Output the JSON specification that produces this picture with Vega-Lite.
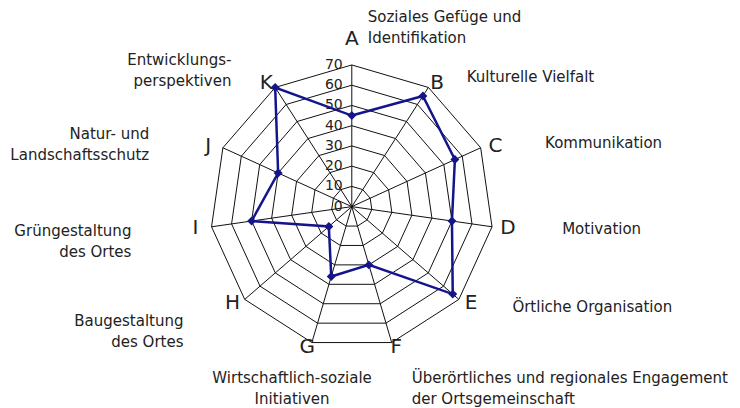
{
  "$schema": "https://vega.github.io/schema/vega-lite/v6.json",
  "width": 740,
  "height": 408,
  "autosize": {"type": "none"},
  "padding": 0,
  "background": "white",
  "config": {"view": {"stroke": null}, "text": {"font": "DejaVu Sans"}},
  "datasets": {
    "axes": [
      {"letter": "A", "label": "Soziales Gefüge und\nIdentifikation", "value": 45},
      {"letter": "B", "label": "Kulturelle Vielfalt", "value": 65},
      {"letter": "C", "label": "Kommunikation", "value": 56},
      {"letter": "D", "label": "Motivation", "value": 50},
      {"letter": "E", "label": "Örtliche Organisation", "value": 66},
      {"letter": "F", "label": "Überörtliches und regionales Engagement\nder Ortsgemeinschaft", "value": 30},
      {"letter": "G", "label": "Wirtschaftlich-soziale\nInitiativen", "value": 36},
      {"letter": "H", "label": "Baugestaltung\ndes Ortes", "value": 15},
      {"letter": "I", "label": "Grüngestaltung\ndes Ortes", "value": 50},
      {"letter": "J", "label": "Natur- und\nLandschaftsschutz", "value": 40},
      {"letter": "K", "label": "Entwicklungs-\nperspektiven", "value": 70}
    ],
    "levels": [
      {"level": 0}, {"level": 10}, {"level": 20}, {"level": 30},
      {"level": 40}, {"level": 50}, {"level": 60}, {"level": 70}
    ]
  },
  "encoding": {
    "x": {"field": "px", "type": "quantitative", "scale": {"domain": [-173.8, 191.8], "nice": false, "zero": false}, "axis": null},
    "y": {"field": "py", "type": "quantitative", "scale": {"domain": [-99.5, 102.1], "nice": false, "zero": false}, "axis": null}
  },
  "layer": [
    {
      "data": {"name": "levels"},
      "transform": [
        {"filter": "datum.level > 0"},
        {"calculate": "[0,1,2,3,4,5,6,7,8,9,10]", "as": "ids"},
        {"flatten": ["ids"]},
        {"calculate": "2*PI*datum.ids/11", "as": "ang"},
        {"calculate": "datum.level*sin(datum.ang)", "as": "px"},
        {"calculate": "datum.level*cos(datum.ang)", "as": "py"}
      ],
      "mark": {"type": "line", "interpolate": "linear-closed", "color": "#111111", "strokeWidth": 1},
      "encoding": {
        "detail": {"field": "level", "type": "nominal"},
        "order": {"field": "ids", "type": "quantitative"}
      }
    },
    {
      "data": {"name": "axes"},
      "transform": [
        {"calculate": "indexof('ABCDEFGHIJK', datum.letter)", "as": "idx"},
        {"calculate": "2*PI*datum.idx/11", "as": "ang"},
        {"calculate": "0", "as": "px"},
        {"calculate": "0", "as": "py"},
        {"calculate": "70*sin(datum.ang)", "as": "ex"},
        {"calculate": "70*cos(datum.ang)", "as": "ey"}
      ],
      "mark": {"type": "rule", "color": "#111111", "strokeWidth": 1},
      "encoding": {
        "x2": {"field": "ex"},
        "y2": {"field": "ey"}
      }
    },
    {
      "data": {"name": "levels"},
      "transform": [
        {"calculate": "0", "as": "px"},
        {"calculate": "datum.level", "as": "py"}
      ],
      "mark": {"type": "text", "align": "right", "baseline": "middle", "dx": -9, "fontSize": 14, "color": "#222222"},
      "encoding": {"text": {"field": "level", "type": "quantitative"}}
    },
    {
      "data": {"name": "axes"},
      "transform": [
        {"calculate": "indexof('ABCDEFGHIJK', datum.letter)", "as": "idx"},
        {"calculate": "2*PI*datum.idx/11", "as": "ang"},
        {"calculate": "datum.value*sin(datum.ang)", "as": "px"},
        {"calculate": "datum.value*cos(datum.ang)", "as": "py"}
      ],
      "mark": {"type": "line", "interpolate": "linear-closed", "color": "#14148c", "strokeWidth": 2.5},
      "encoding": {"order": {"field": "idx", "type": "quantitative"}}
    },
    {
      "data": {"name": "axes"},
      "transform": [
        {"calculate": "indexof('ABCDEFGHIJK', datum.letter)", "as": "idx"},
        {"calculate": "2*PI*datum.idx/11", "as": "ang"},
        {"calculate": "datum.value*sin(datum.ang)", "as": "px"},
        {"calculate": "datum.value*cos(datum.ang)", "as": "py"}
      ],
      "mark": {"type": "point", "shape": "diamond", "filled": true, "size": 80, "color": "#14148c", "opacity": 1}
    },
    {
      "data": {"name": "axes"},
      "transform": [
        {"calculate": "indexof('ABCDEFGHIJK', datum.letter)", "as": "idx"},
        {"calculate": "2*PI*datum.idx/11", "as": "ang"},
        {"calculate": "78*sin(datum.ang)", "as": "px"},
        {"calculate": "(datum.idx == 0 ? 83 : 72.5)*cos(datum.ang)", "as": "py"}
      ],
      "mark": {"type": "text", "align": "center", "baseline": "middle", "fontSize": 20, "color": "#222222"},
      "encoding": {"text": {"field": "letter"}}
    },
    {
      "data": {"name": "axes"},
      "transform": [
        {"calculate": "indexof('ABCDEFGHIJK', datum.letter)", "as": "idx"},
        {"filter": "datum.idx == 0"},
        {"calculate": "0", "as": "px"},
        {"calculate": "93.7", "as": "py"}
      ],
      "mark": {"type": "text", "align": "left", "baseline": "middle", "dx": 16, "fontSize": 15, "lineBreak": "\n", "lineHeight": 21, "color": "#222222"},
      "encoding": {"text": {"field": "label"}}
    },
    {
      "data": {"name": "axes"},
      "transform": [
        {"calculate": "indexof('ABCDEFGHIJK', datum.letter)", "as": "idx"},
        {"filter": "datum.idx >= 1 && datum.idx <= 5"},
        {"calculate": "2*PI*datum.idx/11", "as": "ang"},
        {"calculate": "105*sin(datum.ang)", "as": "px"},
        {"calculate": "(datum.idx == 5 ? 88.2 : 76)*cos(datum.ang)", "as": "py"}
      ],
      "mark": {"type": "text", "align": "left", "baseline": "middle", "fontSize": 15, "lineBreak": "\n", "lineHeight": 21, "color": "#222222"},
      "encoding": {"text": {"field": "label"}}
    },
    {
      "data": {"name": "axes"},
      "transform": [
        {"calculate": "indexof('ABCDEFGHIJK', datum.letter)", "as": "idx"},
        {"filter": "datum.idx == 6"},
        {"calculate": "2*PI*datum.idx/11", "as": "ang"},
        {"calculate": "104.7*sin(datum.ang)", "as": "px"},
        {"calculate": "88.2*cos(datum.ang)", "as": "py"}
      ],
      "mark": {"type": "text", "align": "center", "baseline": "middle", "fontSize": 15, "lineBreak": "\n", "lineHeight": 21, "color": "#222222"},
      "encoding": {"text": {"field": "label"}}
    },
    {
      "data": {"name": "axes"},
      "transform": [
        {"calculate": "indexof('ABCDEFGHIJK', datum.letter)", "as": "idx"},
        {"filter": "datum.idx >= 7"},
        {"calculate": "2*PI*datum.idx/11", "as": "ang"},
        {"calculate": "110*sin(datum.ang)", "as": "px"},
        {"calculate": "86*cos(datum.ang)", "as": "py"}
      ],
      "mark": {"type": "text", "align": "right", "baseline": "middle", "fontSize": 15, "lineBreak": "\n", "lineHeight": 21, "color": "#222222"},
      "encoding": {"text": {"field": "label"}}
    }
  ]
}
